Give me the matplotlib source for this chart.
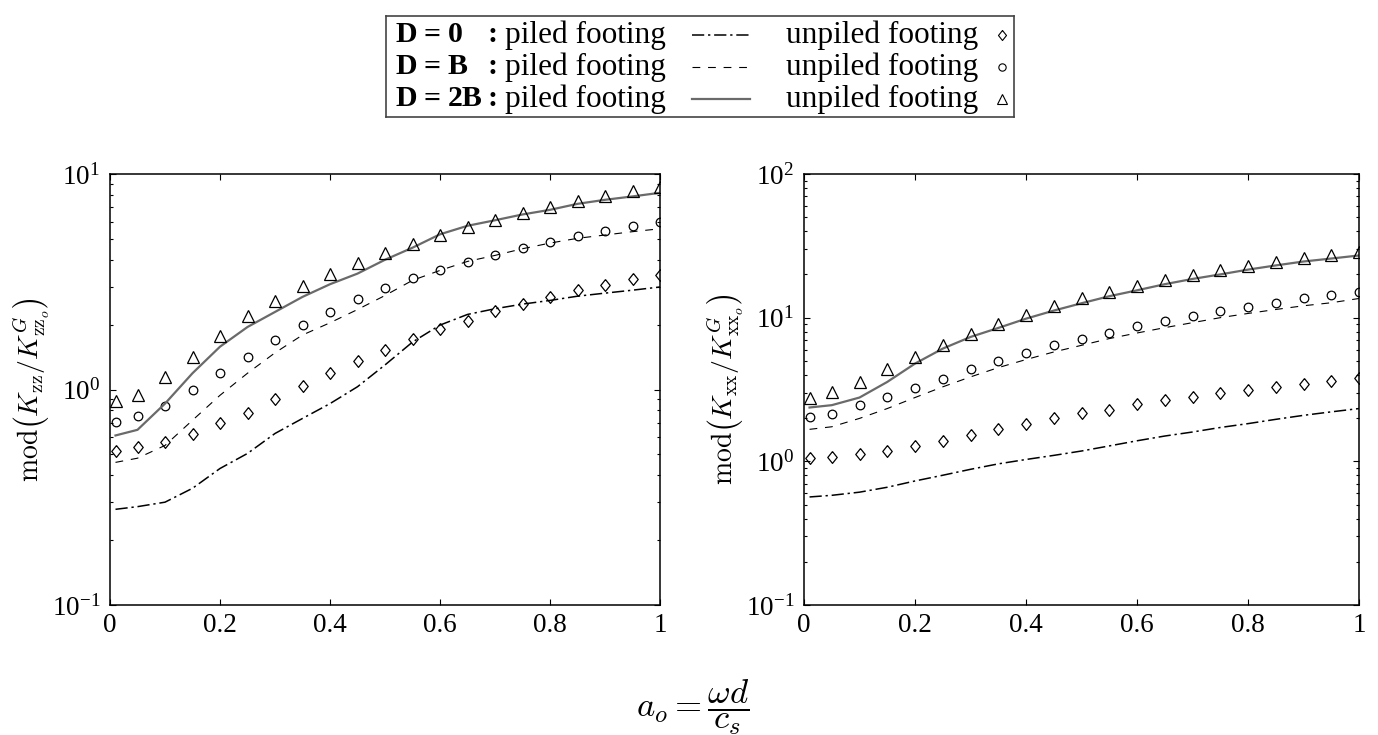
import matplotlib
matplotlib.use("Agg")
import matplotlib.pyplot as plt
from matplotlib.ticker import LogLocator, NullFormatter, FixedLocator

plt.rcParams["font.family"] = ["Liberation Serif", "DejaVu Serif"]
plt.rcParams["mathtext.fontset"] = "custom"
plt.rcParams["mathtext.rm"] = "Liberation Serif"
plt.rcParams["mathtext.it"] = "Liberation Serif:italic"
plt.rcParams["mathtext.bf"] = "Liberation Serif:bold"

# dimensionless frequency a_o
A_O = [0.01, 0.05, 0.1, 0.15, 0.2, 0.25, 0.3, 0.35, 0.4, 0.45, 0.5,
       0.55, 0.6, 0.65, 0.7, 0.75, 0.8, 0.85, 0.9, 0.95, 1.0]

# vertical stiffness |Kzz / Kzzo^G|
ZZ_PILED_D0 = [0.278, 0.286, 0.30, 0.348, 0.43, 0.505, 0.625, 0.734, 0.86, 1.03, 1.30,
               1.66, 1.99, 2.23, 2.37, 2.49, 2.59, 2.71, 2.80, 2.89, 2.99]
ZZ_PILED_DB = [0.459, 0.48, 0.55, 0.72, 0.94, 1.19, 1.48, 1.79, 2.04, 2.35, 2.73,
               3.21, 3.57, 3.93, 4.19, 4.50, 4.78, 5.03, 5.21, 5.40, 5.57]
ZZ_PILED_D2B = [0.612, 0.65, 0.86, 1.19, 1.58, 1.95, 2.29, 2.69, 3.08, 3.45, 4.0,
                4.55, 5.25, 5.75, 6.1, 6.49, 6.82, 7.27, 7.59, 7.87, 8.18]
ZZ_UNPILED_D0 = [0.52, 0.54, 0.57, 0.62, 0.70, 0.78, 0.90, 1.04, 1.19, 1.35, 1.52,
                 1.71, 1.90, 2.09, 2.31, 2.49, 2.69, 2.89, 3.06, 3.25, 3.41]
ZZ_UNPILED_DB = [0.71, 0.75, 0.84, 0.99, 1.19, 1.42, 1.70, 1.99, 2.30, 2.62, 2.95,
                 3.28, 3.60, 3.90, 4.21, 4.55, 4.82, 5.13, 5.46, 5.75, 6.0]
ZZ_UNPILED_D2B = [0.886, 0.94, 1.145, 1.42, 1.77, 2.19, 2.58, 3.01, 3.45, 3.88, 4.30,
                  4.75, 5.22, 5.65, 6.13, 6.59, 7.0, 7.51, 7.93, 8.32, 8.69]

# horizontal stiffness |Kxx / Kxxo^G|
XX_PILED_D0 = [0.565, 0.58, 0.61, 0.66, 0.73, 0.80, 0.88, 0.96, 1.03, 1.10, 1.18,
               1.28, 1.39, 1.50, 1.60, 1.72, 1.83, 1.96, 2.09, 2.21, 2.33]
XX_PILED_DB = [1.67, 1.74, 1.99, 2.33, 2.78, 3.30, 3.87, 4.49, 5.11, 5.77, 6.42,
               7.15, 7.82, 8.52, 9.23, 10.0, 10.7, 11.4, 12.1, 12.7, 13.6]
XX_PILED_D2B = [2.37, 2.46, 2.78, 3.57, 4.79, 6.09, 7.34, 8.48, 9.84, 11.2, 12.6,
                14.1, 15.5, 17.1, 18.6, 20.0, 21.6, 23.1, 24.6, 25.8, 27.1]
XX_UNPILED_D0 = [1.05, 1.08, 1.12, 1.18, 1.28, 1.39, 1.52, 1.67, 1.83, 1.99, 2.17,
                 2.29, 2.49, 2.66, 2.81, 2.97, 3.13, 3.30, 3.44, 3.63, 3.83]
XX_UNPILED_DB = [2.04, 2.15, 2.45, 2.81, 3.24, 3.77, 4.37, 5.00, 5.71, 6.42, 7.15,
                 7.87, 8.71, 9.49, 10.3, 11.1, 11.9, 12.6, 13.6, 14.3, 15.2]
XX_UNPILED_D2B = [2.78, 3.03, 3.59, 4.38, 5.33, 6.49, 7.74, 9.08, 10.5, 12.0, 13.7,
                  15.2, 16.6, 18.2, 19.7, 21.3, 22.9, 24.6, 26.1, 27.4, 28.6]

X_TICKS = [0, 0.2, 0.4, 0.6, 0.8, 1.0]
X_TICKLABELS = ["0", "0.2", "0.4", "0.6", "0.8", "1"]

CASE_VALUES = ["0", "B", "2B"]
DIAMOND = [(0, 1), (0.8, 0), (0, -1), (-0.8, 0), (0, 1)]
LINE_STYLES = [dict(color="k", lw=1.1, ls=(0, (8, 2.5, 1.5, 2.5))),
               dict(color="k", lw=0.8, ls=(0, (7, 7))),
               dict(color="#6a6a6a", lw=1.6, ls="-")]
MARKERS = [dict(marker=DIAMOND, ms=8.5), dict(marker="o", ms=6.2), dict(marker="^", ms=8)]

TICK_FS = 19.5
LABEL_FS = 20


def style_axis(ax, ylim):
    ax.set_yscale("log")
    ax.set_xlim(0, 1)
    ax.set_ylim(*ylim)
    ax.xaxis.set_major_locator(FixedLocator(X_TICKS))
    ax.set_xticklabels(X_TICKLABELS)
    ax.yaxis.set_major_locator(LogLocator(base=10, numticks=10))
    ax.yaxis.set_minor_locator(LogLocator(base=10, subs=range(2, 10), numticks=20))
    ax.yaxis.set_minor_formatter(NullFormatter())
    ax.tick_params(which="both", direction="in", top=True, right=True,
                   labelsize=TICK_FS, width=0.8)
    ax.tick_params(which="major", length=4)
    ax.tick_params(which="minor", length=2.3)
    ax.tick_params(axis="x", pad=6)
    ax.tick_params(axis="y", pad=7)
    for s in ax.spines.values():
        s.set_linewidth(1.1)


def draw(ax, piled, unpiled):
    for yl, ym, ls, mk in zip(piled, unpiled, LINE_STYLES, MARKERS):
        ax.plot(A_O, yl, **ls)
        ax.plot(A_O, ym, ls="none", mfc="none", mec="k", mew=0.9, **mk)


fig = plt.figure(figsize=(13.78, 7.35), dpi=100)
ax1 = fig.add_axes([110 / 1378, 1 - 605 / 735, 550 / 1378, 431 / 735])
ax2 = fig.add_axes([804 / 1378, 1 - 605 / 735, 555 / 1378, 431 / 735])

draw(ax1, [ZZ_PILED_D0, ZZ_PILED_DB, ZZ_PILED_D2B],
     [ZZ_UNPILED_D0, ZZ_UNPILED_DB, ZZ_UNPILED_D2B])
draw(ax2, [XX_PILED_D0, XX_PILED_DB, XX_PILED_D2B],
     [XX_UNPILED_D0, XX_UNPILED_DB, XX_UNPILED_D2B])
style_axis(ax1, (0.1, 10))
style_axis(ax2, (0.1, 100))

ax1.set_ylabel(r"$\mathrm{mod}\left(K_{\mathrm{zz}}/K^{G}_{\mathrm{zz}_o}\right)$",
               fontsize=LABEL_FS, math_fontfamily="cm")
ax1.yaxis.set_label_coords(-0.108, 0.5)
ax2.set_ylabel(r"$\mathrm{mod}\left(K_{\mathrm{xx}}/K^{G}_{\mathrm{xx}_o}\right)$",
               fontsize=LABEL_FS, math_fontfamily="cm")
ax2.yaxis.set_label_coords(-0.107, 0.5)
fig.text(693 / 1378, 0.038, r"$a_o = \dfrac{\omega d}{c_s}$", fontsize=25,
         math_fontfamily="cm", ha="center", va="center")

# legend box drawn by hand: "D = x : piled footing <line>   unpiled footing <marker>"
lg = fig.add_axes([386 / 1378, 1 - 117 / 735, 628 / 1378, 101 / 735])
lg.set_xlim(0, 628)
lg.set_ylim(101, 0)
lg.set_xticks([]); lg.set_yticks([])
for s in lg.spines.values():
    s.set_linewidth(1.2)
    s.set_color("#444444")
LEG_FS = 22.5
bold = dict(fontsize=21.5, fontweight="bold", va="center")
for i, (val, ls, mk) in enumerate(zip(CASE_VALUES, LINE_STYLES, MARKERS)):
    y = 19 + 32 * i
    lg.text(9, y, "D", ha="left", **bold)
    lg.text(46, y, "=", ha="center", **bold)
    lg.text(62, y, val, ha="left", **bold)
    lg.text(102, y, ":", ha="left", **bold)
    lg.text(119, y, "piled footing", fontsize=LEG_FS, va="center", ha="left")
    lg.plot([306, 364], [y, y], **ls)
    lg.text(400, y, "unpiled footing", fontsize=LEG_FS, va="center", ha="left")
    lg.plot([616], [y], ls="none", mfc="none", mec="k", mew=0.8,
            marker=mk["marker"], ms=mk["ms"] * 0.85)

fig.savefig("out.png", dpi=100)
